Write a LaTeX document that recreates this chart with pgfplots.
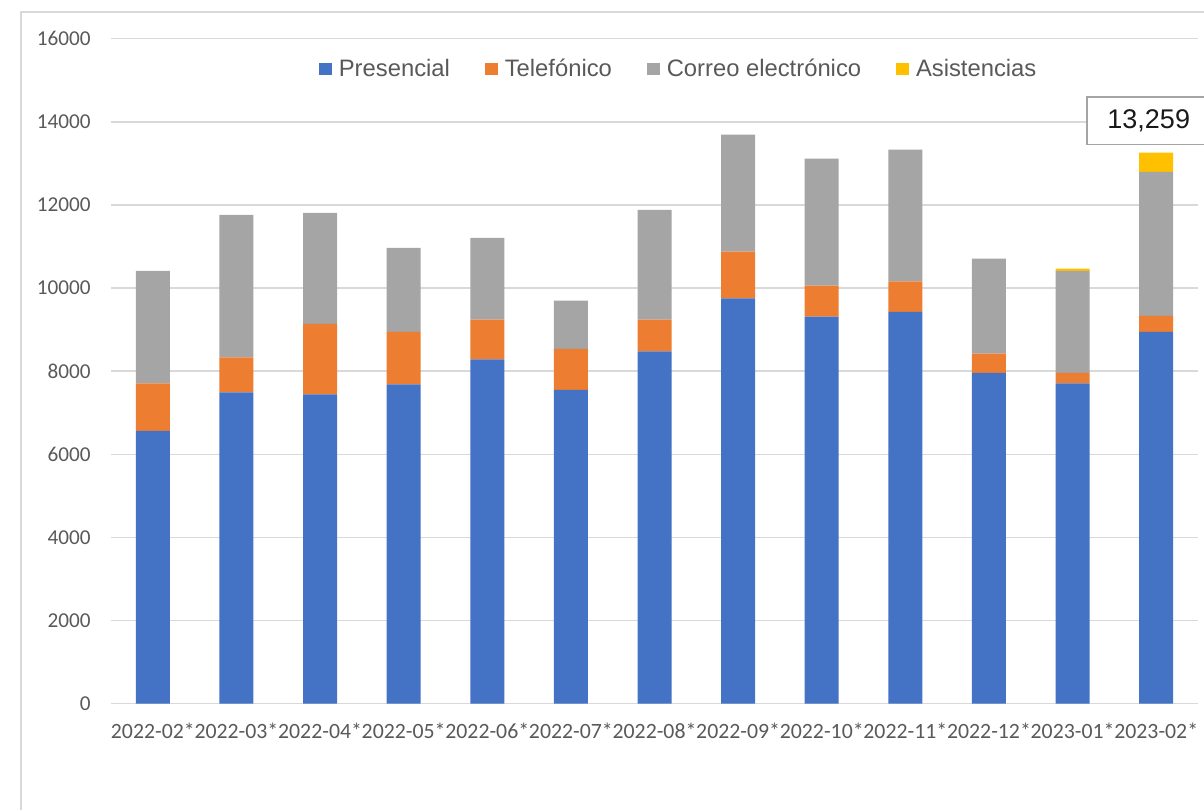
\documentclass[border=0pt]{standalone}
\usepackage{pgfplots}
\pgfplotsset{compat=1.18}
\usepackage{fontspec}
\setmainfont{Liberation Sans}
\newfontfamily\calibri{Carlito}

\definecolor{cblue}{HTML}{4472C4}
\definecolor{corange}{HTML}{ED7D31}
\definecolor{cgray}{HTML}{A5A5A5}
\definecolor{cyellow}{HTML}{FFC000}
\definecolor{gridc}{HTML}{D9D9D9}
\definecolor{txt}{HTML}{595959}

\begin{document}
\begin{tikzpicture}
\path[use as bounding box] (0,0) rectangle (602pt,-404.5pt);
% chart frame (only left and top edges fall inside the picture)
\draw[gridc, line width=0.75pt] (10.5pt,-6pt) rectangle (650pt,-450pt);

\begin{axis}[
    at={(55.5pt,-351.75pt)}, anchor=south west,
    scale only axis, width=543.5pt, height=332.4pt,
    clip=false,
    ybar stacked, bar width=17pt,
    xmin=-0.5, xmax=12.5, ymin=0, ymax=16000,
    xtick={0,...,12},
    xticklabels={2022-02*,2022-03*,2022-04*,2022-05*,2022-06*,2022-07*,2022-08*,2022-09*,2022-10*,2022-11*,2022-12*,2023-01*,2023-02*},
    ytick={0,2000,...,16000},
    scaled y ticks=false,
    axis x line*=bottom, axis y line*=left,
    x axis line style={gridc, line width=0.75pt, -},
    y axis line style={draw=none},
    major tick length=0pt, tick style={draw=none},
    ymajorgrids, grid style={gridc, line width=0.7pt},
    ticklabel style={font=\calibri\fontsize{10.6}{12}\selectfont, text=txt},
    /pgf/number format/assume math mode=true,
    /pgf/number format/1000 sep={},
    yticklabel style={anchor=east, inner sep=0pt, xshift=-10pt},
    xticklabel style={anchor=north, inner sep=0pt, yshift=-9.8pt},
    xticklabel style={font=\calibri\fontsize{10.9}{12}\selectfont},
    legend columns=4,
    legend style={at={(0.1914,0.9544)}, anchor=west, draw=none, fill=none,
        font=\fontsize{11.9}{14}\selectfont, text=txt,
        inner sep=0pt, outer sep=0pt, nodes={inner sep=0pt},
        /tikz/every even column/.append style={column sep=17.5pt},
        /tikz/every odd column/.append style={column sep=3.6pt}},
]
\addplot[fill=cblue, draw=none,
    legend image code/.code={\fill[cblue] (0pt,-3.15pt) rectangle (6.3pt,3.15pt);}]
    coordinates {(0,6559) (1,7490) (2,7442) (3,7683) (4,8285) (5,7546) (6,8477)
                 (7,9753) (8,9311) (9,9424) (10,7955) (11,7707) (12,8942)};
\addplot[fill=corange, draw=none,
    legend image code/.code={\fill[corange] (0pt,-3.15pt) rectangle (6.3pt,3.15pt);}]
    coordinates {(0,1148) (1,843) (2,1693) (3,1259) (4,953) (5,987) (6,761)
                 (7,1122) (8,746) (9,738) (10,465) (11,248) (12,385)};
\addplot[fill=cgray, draw=none,
    legend image code/.code={\fill[cgray] (0pt,-3.15pt) rectangle (6.3pt,3.15pt);}]
    coordinates {(0,2703) (1,3425) (2,2671) (3,2022) (4,1967) (5,1163) (6,2641)
                 (7,2816) (8,3057) (9,3168) (10,2287) (11,2455) (12,3466)};
\addplot[fill=cyellow, draw=none,
    legend image code/.code={\fill[cyellow] (0pt,-3.15pt) rectangle (6.3pt,3.15pt);}]
    coordinates {(0,0) (1,0) (2,0) (3,0) (4,0) (5,0) (6,0)
                 (7,0) (8,0) (9,0) (10,0) (11,56) (12,466)};
\legend{Presencial,Telefónico,Correo electrónico,Asistencias}

% data label of the last bar's total; its box runs past the right edge
\node[draw=cgray, line width=0.75pt, fill=white, anchor=west,
      inner xsep=10.25pt, inner ysep=0pt, minimum height=23.7pt,
      text width=55pt, align=left, text=black!90,
      font=\fontsize{13.5}{16}\selectfont,
      xshift=-35pt, yshift=16pt] at (axis cs:12,13259) {13,259};
\end{axis}
\end{tikzpicture}
\end{document}
